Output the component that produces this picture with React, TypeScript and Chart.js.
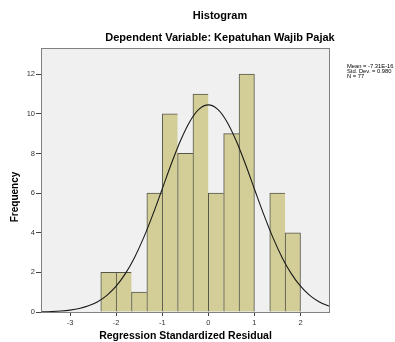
import React, { useEffect, useRef } from "react";
import { Chart, registerables } from "chart.js";

Chart.register(...registerables);

// ---- data ----
const TITLE = "Histogram";
const SUBTITLE = "Dependent Variable: Kepatuhan Wajib Pajak";
const X_TITLE = "Regression Standardized Residual";
const Y_TITLE = "Frequency";
const STATS = ["Mean = -7.31E-16", "Std. Dev. = 0.980", "N = 77"];

// bin centres (bin width 1/3)
const BIN_CENTERS = [-13 / 6, -11 / 6, -9 / 6, -7 / 6, -5 / 6, -3 / 6, -1 / 6, 1 / 6, 3 / 6, 5 / 6, 7 / 6, 9 / 6, 11 / 6];
const FREQUENCIES = [2, 2, 1, 6, 10, 8, 11, 6, 9, 12, 0, 6, 4];

// normal curve
const CURVE_X = [-3.8, -3.6, -3.4, -3.2, -3.0, -2.8, -2.6, -2.4, -2.2, -2.0, -1.8, -1.6, -1.4, -1.2, -1.0, -0.8, -0.6, -0.4, -0.2, 0, 0.2, 0.4, 0.6, 0.8, 1.0, 1.2, 1.4, 1.6, 1.8, 2.0, 2.2, 2.4, 2.6, 2.8];
const CURVE_Y = [0.006, 0.012, 0.025, 0.051, 0.096, 0.176, 0.31, 0.521, 0.841, 1.302, 1.934, 2.756, 3.766, 4.938, 6.209, 7.489, 8.664, 9.615, 10.235, 10.45, 10.235, 9.615, 8.664, 7.489, 6.209, 4.938, 3.766, 2.756, 1.934, 1.302, 0.841, 0.521, 0.31, 0.176];

const X_MIN = -3.63;
const X_MAX = 2.64;
const Y_MIN = 0;
const Y_MAX = 13.32;

const FONT = "'Liberation Sans', Arial, sans-serif";

const framePlugin = {
  id: "spssFrame",
  beforeDraw(chart: any) {
    const { ctx, chartArea: a } = chart;
    ctx.save();
    ctx.fillStyle = "#ffffff";
    ctx.fillRect(0, 0, chart.width, chart.height);
    ctx.fillStyle = "#f0f0f0";
    ctx.fillRect(a.left, a.top, a.right - a.left, a.bottom - a.top);
    ctx.restore();
  },
  afterDraw(chart: any) {
    const { ctx, chartArea: a } = chart;
    ctx.save();
    ctx.strokeStyle = "#808080";
    ctx.lineWidth = 1;
    ctx.strokeRect(a.left + 0.5, a.top + 0.5, a.right - a.left - 1, a.bottom - a.top);
    ctx.fillStyle = "#000";
    ctx.textAlign = "center";
    ctx.textBaseline = "middle";
    ctx.font = `bold 11px ${FONT}`;
    ctx.fillText(TITLE, 220, 16);
    ctx.fillText(SUBTITLE, 220, 38);
    ctx.font = `bold 10.5px ${FONT}`;
    ctx.fillText(X_TITLE, (a.left + a.right) / 2, 336);
    ctx.save();
    ctx.translate(15, 197);
    ctx.rotate(-Math.PI / 2);
    ctx.font = `bold 10px ${FONT}`;
    ctx.fillText(Y_TITLE, 0, 0);
    ctx.restore();
    ctx.textAlign = "left";
    ctx.font = `5.8px ${FONT}`;
    STATS.forEach((s, i) => ctx.fillText(s, 347, 66 + i * 5));
    ctx.restore();
  },
};

export default function App() {
  const ref = useRef<HTMLCanvasElement>(null);
  useEffect(() => {
    document.body.style.margin = "0";
    if (!ref.current) return;
    const chart = new Chart(ref.current, {
      type: "bar",
      data: {
        datasets: [
          {
            type: "line",
            data: CURVE_X.map((x, i) => ({ x, y: CURVE_Y[i] })),
            borderColor: "#1a1a1a",
            borderWidth: 1.1,
            pointRadius: 0,
            tension: 0.35,
            fill: false,
            order: 0,
          } as any,
          {
            type: "bar",
            data: BIN_CENTERS.map((x, i) => ({ x, y: FREQUENCIES[i] })),
            backgroundColor: "#d3ce97",
            borderColor: "#55554a",
            borderWidth: (ctx: any) => {
              const i = ctx.dataIndex;
              const next = FREQUENCIES[i + 1];
              return { left: 1, top: 1, right: next === undefined || next === 0 ? 1 : 0, bottom: 0 };
            },
            borderSkipped: false,
            barPercentage: 1,
            categoryPercentage: 1,
            order: 1,
          } as any,
        ],
      },
      options: {
        responsive: false,
        animation: false,
        devicePixelRatio: 1,
        layout: { padding: { left: 0, right: 65, top: 48, bottom: 0 } },
        plugins: {
          legend: { display: false },
          title: { display: false },
          tooltip: { enabled: false },
        },
        scales: {
          x: {
            type: "linear",
            min: X_MIN,
            max: X_MAX,
            offset: false,
            grid: { offset: false, drawOnChartArea: false, drawTicks: true, tickLength: 4, color: "#444" },
            border: { display: false },
            ticks: {
              stepSize: 1,
              includeBounds: false,
              font: { family: FONT, size: 7.5 },
              color: "#333",
              padding: 2,
              maxRotation: 0,
            },
            afterFit: (s: any) => {
              s.height = 30;
            },
          },
          y: {
            type: "linear",
            min: Y_MIN,
            max: Y_MAX,
            grid: { drawOnChartArea: false, drawTicks: true, tickLength: 5, color: "#444" },
            border: { display: false },
            ticks: {
              stepSize: 2,
              includeBounds: false,
              font: { family: FONT, size: 7.5 },
              color: "#333",
              padding: 1,
            },
            afterFit: (s: any) => {
              s.width = 41;
            },
          },
        },
      } as any,
      plugins: [framePlugin],
    });
    return () => chart.destroy();
  }, []);
  return (
    <div style={{ width: 395, height: 342 }}>
      <canvas ref={ref} width={395} height={342} style={{ display: "block" }} />
    </div>
  );
}
